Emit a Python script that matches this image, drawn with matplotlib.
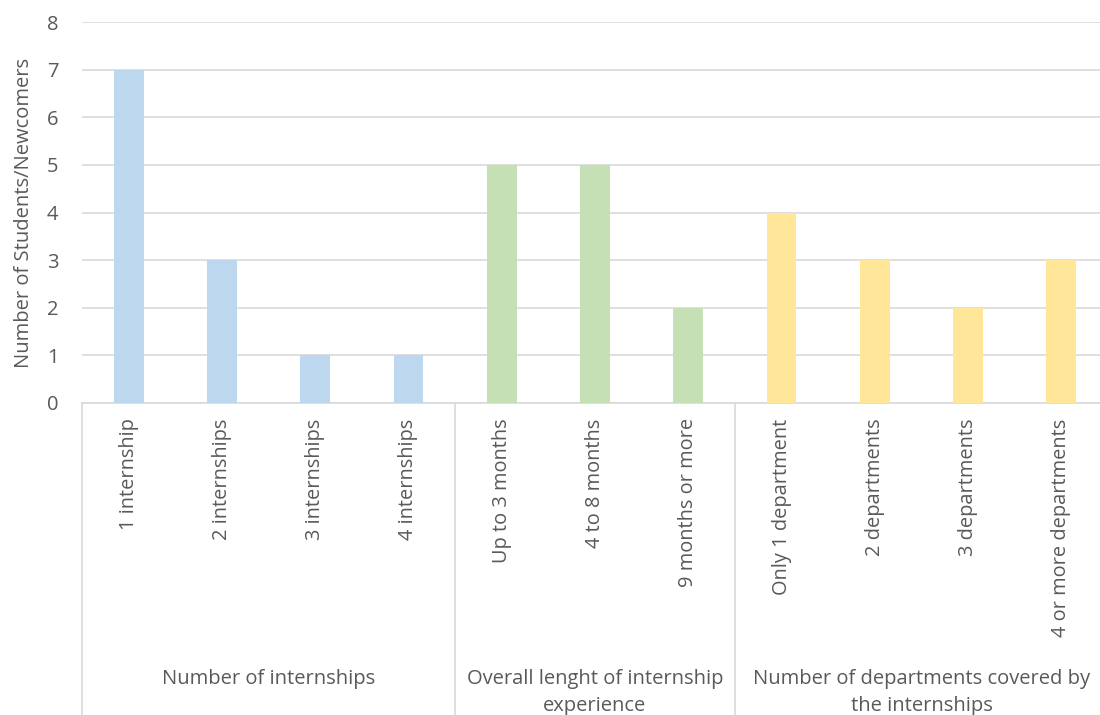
import matplotlib
matplotlib.use("Agg")
import matplotlib.pyplot as plt
from matplotlib.transforms import blended_transform_factory

# Data
categories = [
    "1 internship", "2 internships", "3 internships", "4 internships",
    "Up to 3 months", "4 to 8 months", "9 months or more",
    "Only 1 department", "2 departments", "3 departments", "4 or more departments",
]
counts = [7, 3, 1, 1, 5, 5, 2, 4, 3, 2, 3]
group_names = [
    "Number of internships",
    "Overall lenght of internship\nexperience",
    "Number of departments covered by\nthe internships",
]
group_sizes = [4, 3, 4]
group_colors = ["#BDD7EE", "#C5E0B4", "#FFE699"]
y_ticks = list(range(0, 9))

plt.rcParams["font.family"] = ["Open Sans", "DejaVu Sans"]
text_color = "#595959"
line_color = "#D9D9D9"

fig = plt.figure(figsize=(11, 7.15), dpi=100)
ax = fig.add_axes([82 / 1100, 1 - 403 / 715, 1026 / 1100, 381 / 715])

bar_colors = []
for size, color in zip(group_sizes, group_colors):
    bar_colors += [color] * size

x = list(range(len(categories)))
ax.bar(x, counts, width=0.32, color=bar_colors, zorder=3)

ax.set_xlim(-0.5, len(categories) - 0.5)
ax.set_ylim(0, 8)
ax.set_yticks(y_ticks)
ax.set_yticklabels([str(v) for v in y_ticks], fontsize=14.5, color=text_color)
ax.tick_params(axis="y", length=0, pad=17)
ax.yaxis.grid(True, color=line_color, linewidth=1.2, zorder=0)

ax.set_xticks(x)
ax.set_xticklabels(categories, rotation=90, fontsize=14.4, color=text_color,
                   va="top", ha="center")
ax.tick_params(axis="x", length=0, pad=11)

for side in ["top", "right", "left"]:
    ax.spines[side].set_visible(False)
ax.spines["bottom"].set_color(line_color)
ax.spines["bottom"].set_linewidth(1.2)

ax.set_ylabel("Number of Students/Newcomers", fontsize=14.5, color=text_color,
              labelpad=9)

# Group separators and group labels below the category labels
trans = blended_transform_factory(ax.transData, fig.transFigure)
y_axis_fig = 1 - 403 / 715
boundaries = [-0.5]
for size in group_sizes:
    boundaries.append(boundaries[-1] + size)
for b in boundaries:
    ax.plot([b, b], [y_axis_fig, 0], transform=trans, color=line_color,
            linewidth=1.2, clip_on=False, zorder=1)
for name, lo, hi in zip(group_names, boundaries[:-1], boundaries[1:]):
    ax.text((lo + hi) / 2, 1 - 669 / 715, name, transform=trans,
            ha="center", va="top", fontsize=14.5, color=text_color,
            linespacing=1.5, multialignment="center")

fig.savefig("out.png", dpi=100)
